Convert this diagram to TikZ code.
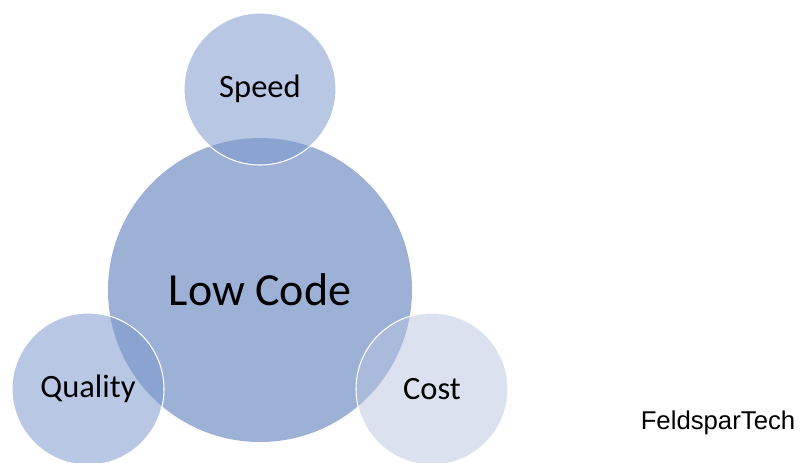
\documentclass[tikz,border=0pt]{standalone}
\usepackage{fontspec}
\setmainfont{Carlito}
\newfontfamily\arialfont{Liberation Sans}
\definecolor{bigblue}{RGB}{157,177,214}
\definecolor{midblue}{RGB}{125,153,205}
\definecolor{paleblue}{RGB}{184,196,224}
\begin{document}
\begin{tikzpicture}[bigcircle/.style={circle, fill=bigblue, minimum size=228pt, inner sep=0pt, font=\fontsize{34.5}{40}\selectfont},
    smallcircle/.style={circle, draw=white, line width=0.8pt, fill=midblue, fill opacity=0.55, text opacity=1, minimum size=114pt, inner sep=0pt, font=\fontsize{24.4}{28}\selectfont},
    x=0.75pt, y=-0.75pt]
        \useasboundingbox (0,0) rectangle (803,462);
        \node[bigcircle] (lowcode) at (260,290) {Low Code};
        \node[smallcircle] (speed) at (260,89) {Speed};
        \node[smallcircle] (quality) at (88,389) {Quality};
        \node[smallcircle, fill=paleblue, fill opacity=0.5] (cost) at (432,389) {Cost};
        \node[font=\arialfont\fontsize{19.3}{22}\selectfont] (brand) at (718,423) {FeldsparTech};
    \end{tikzpicture}
\end{document}
